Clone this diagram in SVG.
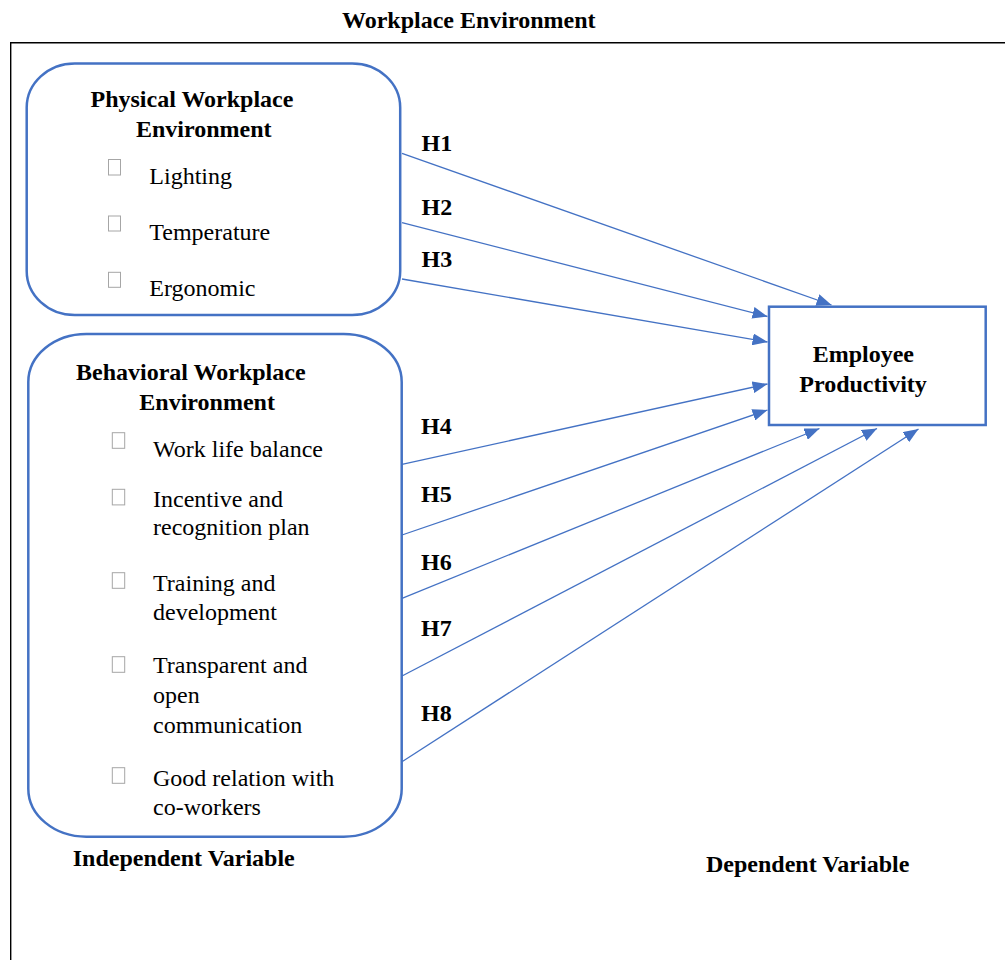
<svg xmlns="http://www.w3.org/2000/svg" width="1005" height="960" viewBox="0 0 1005 960">
<style>
text{font-family:"Liberation Serif","Times New Roman",serif;font-size:24px;fill:#000}
.b{font-weight:bold}
.node{fill:#fff;stroke:#4472C4;stroke-width:2.5}
.bul{fill:#fff;stroke:#a6a6a6;stroke-width:1}
.conn{stroke:#4472C4;stroke-width:1.3;fill:none;marker-end:url(#ah)}
</style>
<defs>
<marker id="ah" markerUnits="userSpaceOnUse" viewBox="0 0 15 12" markerWidth="15" markerHeight="12" refX="15" refY="6" orient="auto">
<path d="M0,0 L15,6 L0,12 z" fill="#4472C4"/>
</marker>
</defs>
<rect width="1005" height="960" fill="#fff"/>
<text class="b" x="342" y="27.5">Workplace Environment</text>
<path d="M10.7,960 V42.7 H1005" fill="none" stroke="#000" stroke-width="1.4"/>

<g id="physical">
<rect class="node" x="26.7" y="63.5" width="373.5" height="251.5" rx="48" ry="44"/>
<text class="b" x="90.5" y="107">Physical Workplace</text>
<text class="b" x="136" y="136.5">Environment</text>
<rect class="bul" x="108.5" y="159.5" width="12" height="15.5"/>
<text x="149.3" y="184.3">Lighting</text>
<rect class="bul" x="108.5" y="216" width="12" height="15"/>
<text x="149.3" y="240">Temperature</text>
<rect class="bul" x="108.5" y="272.3" width="12" height="15"/>
<text x="149.3" y="296">Ergonomic</text>
</g>

<g id="behavioral">
<rect class="node" x="28.3" y="334" width="373.4" height="502.7" rx="58" ry="48"/>
<text class="b" x="76" y="380">Behavioral Workplace</text>
<text class="b" x="139.3" y="410">Environment</text>
<rect class="bul" x="112.3" y="432.7" width="12.4" height="15.6"/>
<text x="153" y="456.7">Work life balance</text>
<rect class="bul" x="112.3" y="489.3" width="12.4" height="15.6"/>
<text x="153" y="506.7">Incentive and</text>
<text x="153" y="535">recognition plan</text>
<rect class="bul" x="112.3" y="572.7" width="12.4" height="15.6"/>
<text x="153" y="590.7">Training and</text>
<text x="153" y="620">development</text>
<rect class="bul" x="112.3" y="656.7" width="12.4" height="15.6"/>
<text x="153" y="673.3">Transparent and</text>
<text x="153" y="703.3">open</text>
<text x="153" y="733.3">communication</text>
<rect class="bul" x="112.3" y="767.7" width="12.4" height="15.6"/>
<text x="153" y="785.7">Good relation with</text>
<text x="153" y="815">co-workers</text>
</g>

<g id="productivity">
<rect class="node" x="769" y="306.7" width="216.7" height="118.3"/>
<text class="b" x="812.7" y="361.7">Employee</text>
<text class="b" x="799.3" y="391.7">Productivity</text>
</g>

<g id="connectors">
<line class="conn" x1="402" y1="153.3" x2="831.5" y2="305"/>
<line class="conn" x1="402" y1="222.7" x2="767.5" y2="316.5"/>
<line class="conn" x1="402" y1="279" x2="767.5" y2="342"/>
<line class="conn" x1="402" y1="464.3" x2="767.5" y2="384"/>
<line class="conn" x1="402" y1="535" x2="767.5" y2="410"/>
<line class="conn" x1="402" y1="598.3" x2="819.5" y2="428.5"/>
<line class="conn" x1="402" y1="676" x2="877" y2="428.5"/>
<line class="conn" x1="402" y1="761.7" x2="918.5" y2="429"/>
</g>

<g id="labels">
<text class="b" x="421.5" y="150.7">H1</text>
<text class="b" x="421.5" y="215">H2</text>
<text class="b" x="421.5" y="267.3">H3</text>
<text class="b" x="421" y="434.3">H4</text>
<text class="b" x="421" y="501.7">H5</text>
<text class="b" x="421" y="570">H6</text>
<text class="b" x="421" y="635.7">H7</text>
<text class="b" x="421" y="721">H8</text>
<text class="b" x="72.7" y="865.7">Independent Variable</text>
<text class="b" x="706" y="872">Dependent Variable</text>
</g>
</svg>
